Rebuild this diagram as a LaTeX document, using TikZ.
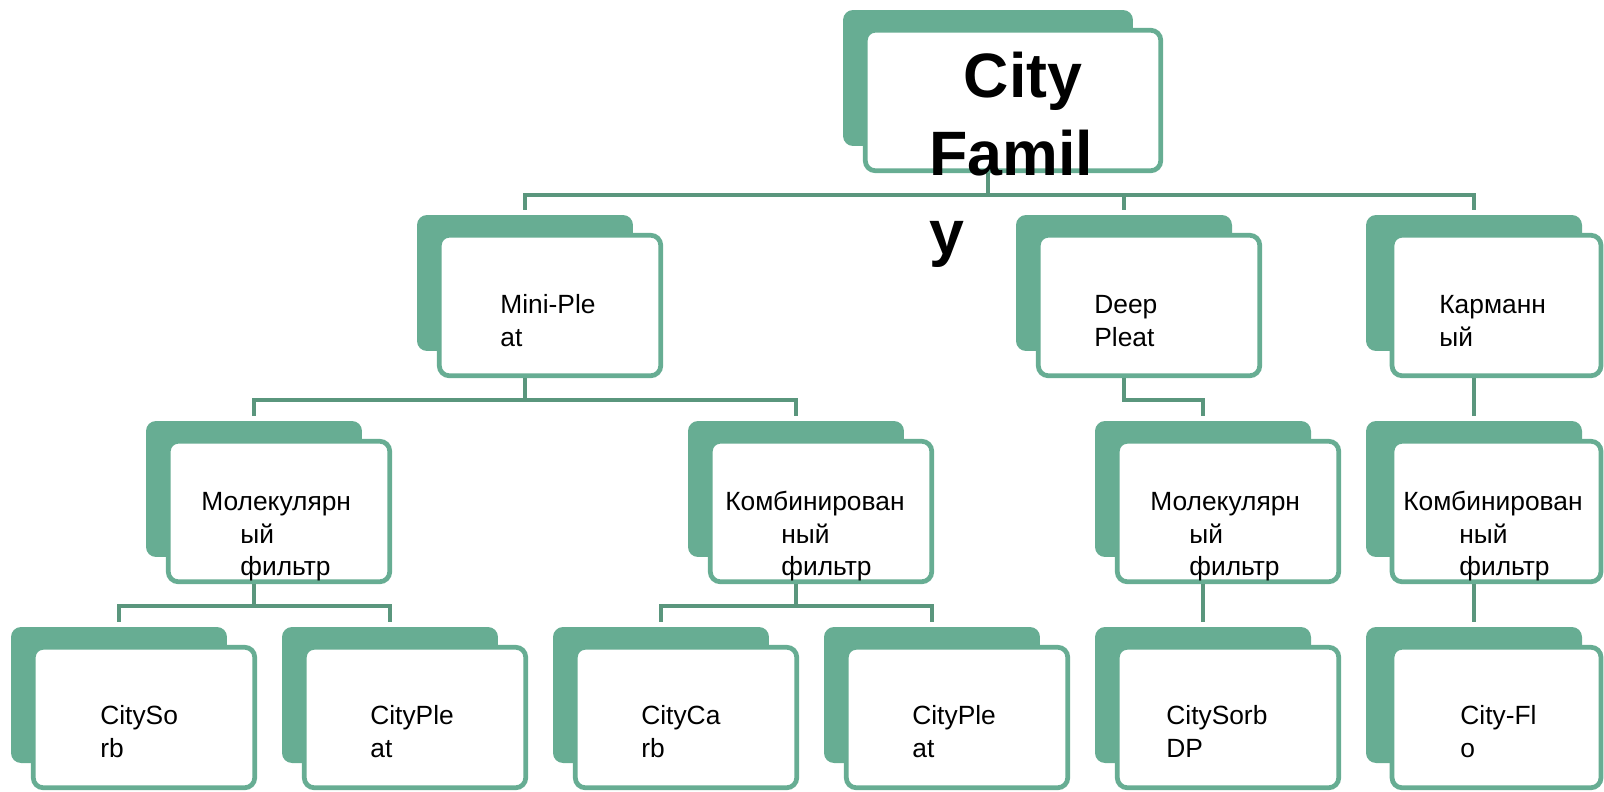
\documentclass[tikz,border=0pt]{standalone}
\usepackage{fontspec}
\setmainfont{Liberation Sans}
\definecolor{famgreen}{RGB}{103,173,147}
\definecolor{famline}{RGB}{90,150,125}
\begin{document}
\begin{tikzpicture}[x=0.02cm,y=-0.02cm,
  back/.style={fill=famgreen,rounded corners=0.2cm,minimum width=4.32cm,minimum height=2.72cm,inner sep=0pt},
  card/.style={draw=famgreen,line width=2.7pt,fill=white,rounded corners=0.2cm,minimum width=4.43cm,minimum height=2.81cm,inner sep=0pt},
  link/.style={draw=famline,line width=2.4pt,shorten >=1mm},
  lbl/.style={font=\fontsize{15}{18.4}\selectfont,align=left,inner sep=0pt,anchor=north west}]
\useasboundingbox (0,0) rectangle (1604,791);
\node[back,minimum width=5.8cm] (top) at (988,78) {};
\node[card,minimum width=5.91cm] (top-c) at ([shift={(25,22.5)}]top.center) {};
\node[back] (mp) at (525,283) {};
\node[card] (mp-c) at ([shift={(25,22.5)}]mp.center) {};
\node[back] (dp) at (1124,283) {};
\node[card] (dp-c) at ([shift={(25,22.5)}]dp.center) {};
\node[back] (pk) at (1474,283) {};
\node[card,minimum width=4.18cm] (pk-c) at ([shift={(22.5,22.5)}]pk.center) {};
\node[back] (mf1) at (254,489) {};
\node[card] (mf1-c) at ([shift={(25,22.5)}]mf1.center) {};
\node[back] (cf1) at (796,489) {};
\node[card] (cf1-c) at ([shift={(25,22.5)}]cf1.center) {};
\node[back] (mf2) at (1203,489) {};
\node[card] (mf2-c) at ([shift={(25,22.5)}]mf2.center) {};
\node[back] (cf2) at (1474,489) {};
\node[card,minimum width=4.18cm] (cf2-c) at ([shift={(22.5,22.5)}]cf2.center) {};
\node[back] (cs) at (119,695) {};
\node[card] (cs-c) at ([shift={(25,22.5)}]cs.center) {};
\node[back] (cp1) at (390,695) {};
\node[card] (cp1-c) at ([shift={(25,22.5)}]cp1.center) {};
\node[back] (cc) at (661,695) {};
\node[card] (cc-c) at ([shift={(25,22.5)}]cc.center) {};
\node[back] (cp2) at (932,695) {};
\node[card] (cp2-c) at ([shift={(25,22.5)}]cp2.center) {};
\node[back] (csdp) at (1203,695) {};
\node[card] (csdp-c) at ([shift={(25,22.5)}]csdp.center) {};
\node[back] (cflo) at (1474,695) {};
\node[card,minimum width=4.18cm] (cflo-c) at ([shift={(22.5,22.5)}]cflo.center) {};
\draw[link] (top |- top-c.south) -- ++(0,22) -| (mp.north);
\draw[link] (top |- top-c.south) -- ++(0,22) -| (dp.north);
\draw[link] (top |- top-c.south) -- ++(0,22) -| (pk.north);
\draw[link] (mp |- mp-c.south) -- ++(0,22) -| (mf1.north);
\draw[link] (mp |- mp-c.south) -- ++(0,22) -| (cf1.north);
\draw[link] (dp |- dp-c.south) -- ++(0,22) -| (mf2.north);
\draw[link] (pk |- pk-c.south) -- (cf2.north);
\draw[link] (mf1 |- mf1-c.south) -- ++(0,22) -| (cs.north);
\draw[link] (mf1 |- mf1-c.south) -- ++(0,22) -| (cp1.north);
\draw[link] (cf1 |- cf1-c.south) -- ++(0,22) -| (cc.north);
\draw[link] (cf1 |- cf1-c.south) -- ++(0,22) -| (cp2.north);
\draw[link] (mf2 |- mf2-c.south) -- (csdp.north);
\draw[link] (cf2 |- cf2-c.south) -- (cflo.north);
\node[lbl,font=\fontsize{35.7}{44.8}\selectfont\bfseries] (top-t) at (929,41.7) {\strut\hspace*{0.69cm}City\\Famil\\y};
\node[lbl] (mp-t) at (500,291) {\strut Mini-Ple\\at};
\node[lbl] (dp-t) at (1094,291) {\strut Deep\\Pleat};
\node[lbl] (pk-t) at (1439,291) {\strut Карманн\\ый};
\node[lbl] (mf1-t) at (201,488) {\strut Молекулярн\\\hspace*{0.78cm}ый\\\hspace*{0.78cm}фильтр};
\node[lbl] (cf1-t) at (725,488) {\strut Комбинирован\\\hspace*{1.12cm}ный\\\hspace*{1.12cm}фильтр};
\node[lbl] (mf2-t) at (1150,488) {\strut Молекулярн\\\hspace*{0.78cm}ый\\\hspace*{0.78cm}фильтр};
\node[lbl] (cf2-t) at (1403,488) {\strut Комбинирован\\\hspace*{1.12cm}ный\\\hspace*{1.12cm}фильтр};
\node[lbl] (cs-t) at (100,702) {\strut CitySo\\rb};
\node[lbl] (cp1-t) at (370,702) {\strut CityPle\\at};
\node[lbl] (cc-t) at (641,702) {\strut CityCa\\rb};
\node[lbl] (cp2-t) at (912,702) {\strut CityPle\\at};
\node[lbl] (csdp-t) at (1166,702) {\strut CitySorb\\DP};
\node[lbl] (cflo-t) at (1460,702) {\strut City-Fl\\o};
\end{tikzpicture}
\end{document}
